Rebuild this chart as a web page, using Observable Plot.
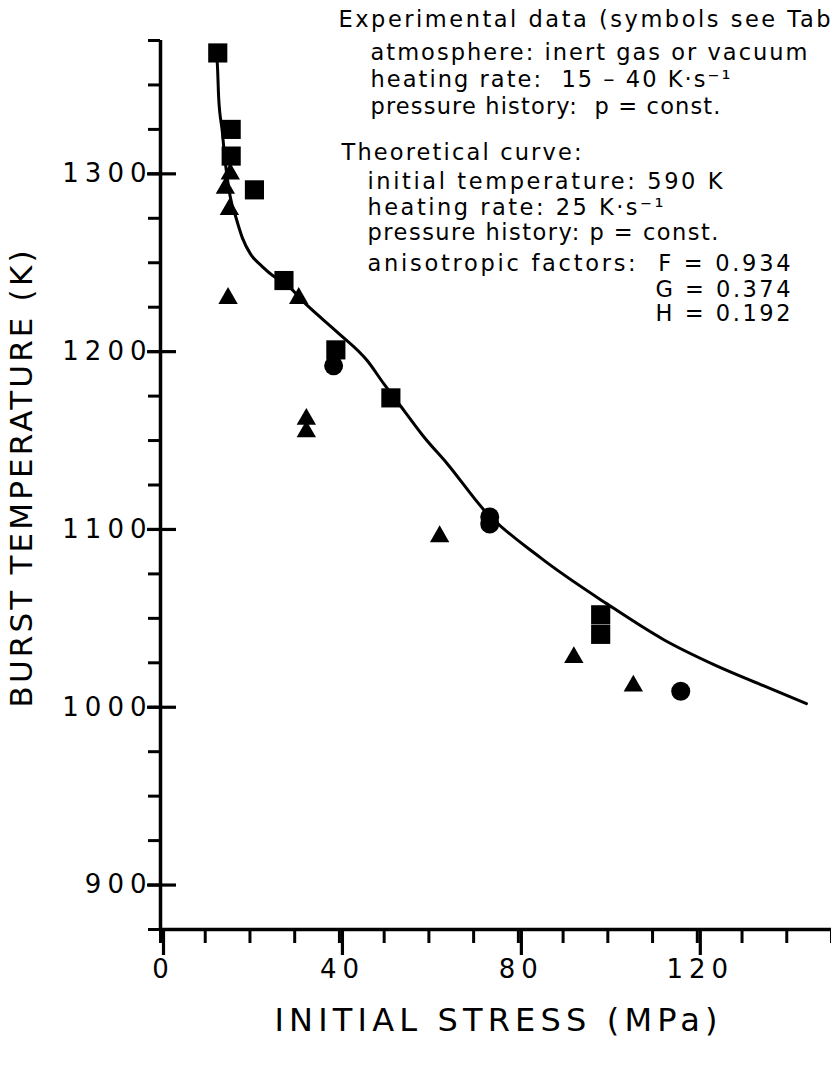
<!DOCTYPE html>
<html>
<head>
<meta charset="utf-8">
<script src="https://cdn.jsdelivr.net/npm/d3@7"></script>
<script src="https://cdn.jsdelivr.net/npm/@observablehq/plot@0.6"></script>
<style>
  html, body { margin: 0; padding: 0; background: #fff; }
  #chart svg { display: block; }
</style>
</head>
<body>
<div id="chart"></div>
<script>
// ---------------- data ----------------
const squareStress   = [12.8, 15.8, 15.8, 21.0, 27.6, 39.2, 51.5, 98.4, 98.4];
const squareTemp     = [1368, 1325, 1310, 1291, 1240, 1201, 1174, 1052, 1041];
const triangleStress = [15.6, 14.5, 15.4, 15.1, 30.9, 32.6, 32.6, 62.4, 92.4, 105.7];
const triangleTemp   = [1300, 1292, 1280, 1230, 1230, 1162, 1155, 1096, 1028, 1012];
const circleStress   = [38.7, 73.6, 73.6, 116.3];
const circleTemp     = [1192, 1107, 1103, 1009];

const curveStress = [12.1, 12.7, 13.0, 13.8, 14.5, 15.2, 15.6, 16.8, 18.3, 20.1, 22.7, 25.0, 27.6,
                     32.8, 39.5, 46.2, 49.9, 54.4, 58.9, 64.1, 72.3, 85.0, 99.9, 112.5, 123.7, 134.9, 144.4];
const curveTemp   = [1372, 1362, 1343, 1324, 1306, 1293, 1287, 1276, 1264, 1255, 1248, 1243, 1239,
                     1226, 1211, 1195, 1182, 1167, 1152, 1137, 1111, 1084, 1058, 1038, 1024, 1012, 1002];

const xMajorTicks = [0, 40, 80, 120];
const yMajorTicks = [900, 1000, 1100, 1200, 1300];
const xTitle = "INITIAL STRESS (MPa)";
const yTitle = "BURST TEMPERATURE (K)";
const noteLines = [
  "Experimental data (symbols see Tab",
  "atmosphere: inert gas or vacuum",
  "heating rate:  15 – 40 K·s⁻¹",
  "pressure history:  p = const.",
  "Theoretical curve:",
  "initial temperature: 590 K",
  "heating rate: 25 K·s⁻¹",
  "pressure history: p = const.",
  "anisotropic factors:  F = 0.934",
  "G = 0.374",
  "H = 0.192"
];

// ---------------- layout ----------------
const W = 831, H = 1066;
const mL = 160, mT = 40, mR = 0, mB = 137;
// annotation placement (left x, middle y, fitted width) in page pixels
const noteLayout = [
  [338, 19, 492], [370, 52, 437], [370, 79, 360], [370, 106, 350],
  [341, 152, 240], [367, 181, 355], [367, 207, 296], [367, 232, 351],
  [367, 263, 423], [655, 289, 135], [655, 313, 135]
];

const squares   = squareStress.map((x, i) => ({x, y: squareTemp[i]}));
const triangles = triangleStress.map((x, i) => ({x, y: triangleTemp[i]}));
const circles   = circleStress.map((x, i) => ({x, y: circleTemp[i]}));
const curve     = curveStress.map((x, i) => ({x, y: curveTemp[i]}));

const noteMarks = noteLines.map((t, i) => Plot.text([t], {
  text: d => d,
  frameAnchor: "top-left",
  dx: noteLayout[i][0] - mL,
  dy: noteLayout[i][1] - mT,
  textAnchor: "start",
  lineAnchor: "middle",
  fontSize: 22.5,
  fill: "black"
}));

const svg = Plot.plot({
  width: W,
  height: H,
  marginLeft: mL, marginTop: mT, marginRight: mR, marginBottom: mB,
  style: {background: "white", color: "black", fontFamily: "'DejaVu Sans', sans-serif"},
  x: {domain: [0, 150]},
  y: {domain: [875, 1375]},
  marks: [
    // axis lines
    Plot.ruleX([0], {strokeWidth: 3.5}),
    Plot.ruleY([875], {strokeWidth: 3.5}),
    // x ticks
    Plot.axisX({ticks: d3.range(0, 151, 10), tickSize: 14, tickFormat: () => "", label: null, strokeWidth: 3}),
    Plot.axisX({ticks: xMajorTicks, tickSize: 26, tickPadding: 4, tickFormat: d => String(d),
                fontSize: 26, label: null, strokeWidth: 3.2, dx: 3}),
    // y ticks
    Plot.axisY({ticks: d3.range(875, 1376, 25), tickSize: 12, tickFormat: () => "", label: null, strokeWidth: 3}),
    Plot.axisY({ticks: yMajorTicks, tickSize: 13, tickPadding: -5, tickFormat: d => String(d),
                fontSize: 26, label: null, strokeWidth: 3.2}),
    Plot.tickY(yMajorTicks, {y: d => d, insetRight: (W - mL - mR) - 16, strokeWidth: 3.2}),
    // titles
    Plot.text([xTitle], {text: d => d, frameAnchor: "bottom", dy: 91, textAnchor: "middle", lineAnchor: "middle", fontSize: 32, fill: "black"}),
    Plot.text([yTitle], {text: d => d, frameAnchor: "left", dx: -138, dy: -6, rotate: -90, textAnchor: "middle", lineAnchor: "middle", fontSize: 31, fill: "black"}),
    // theoretical curve
    Plot.line(curve, {x: "x", y: "y", curve: "monotone-x", stroke: "black", strokeWidth: 3, strokeLinejoin: "round"}),
    // experimental points
    Plot.dot(squares,   {x: "x", y: "y", symbol: "square",   r: 10.8, fill: "black", stroke: "none"}),
    Plot.dot(triangles, {x: "x", y: "y", symbol: "triangle", r: 7.2,  fill: "black", stroke: "none"}),
    Plot.dot(circles,   {x: "x", y: "y", symbol: "circle",   r: 9.5,  fill: "black", stroke: "none"}),
    ...noteMarks
  ]
});

// fit text widths & letter spacing to match the reference typography
const fit = new Map([[xTitle, 443], [yTitle, 457]]);
noteLines.forEach((t, i) => fit.set(t, noteLayout[i][2]));
d3.select(svg).selectAll("text").each(function () {
  const t = this.textContent;
  if (fit.has(t)) {
    this.setAttribute("textLength", fit.get(t));
    this.setAttribute("lengthAdjust", "spacing");
  }
});
d3.select(svg).selectAll('g[aria-label="y-axis tick label"] text, g[aria-label="x-axis tick label"] text')
  .attr("letter-spacing", 6);

document.getElementById("chart").append(svg);
</script>
</body>
</html>
